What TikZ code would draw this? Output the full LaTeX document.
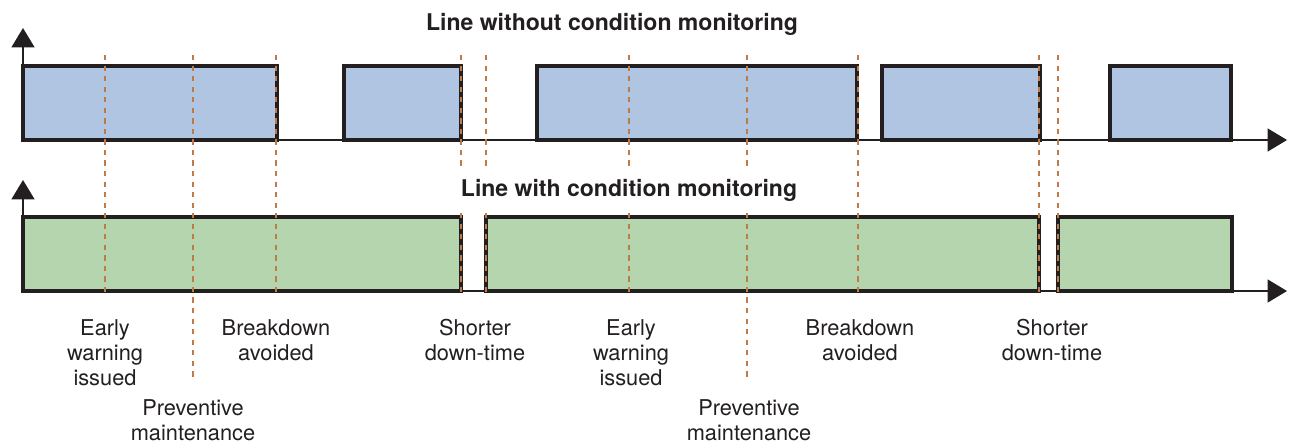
\documentclass[tikz,border=0pt]{standalone}
\usepackage{fontspec}
\setmainfont{TeX Gyre Heros}
\usetikzlibrary{arrows.meta,positioning}
\definecolor{runBlue}{HTML}{B0C5E2}
\definecolor{runGreen}{HTML}{B4D5AE}
\definecolor{lineBlack}{HTML}{231F20}
\definecolor{markOrange}{HTML}{C07A48}

\begin{document}
\begin{tikzpicture}
  [x=0.02cm,y=-0.02cm,
   runA/.style={draw=lineBlack,line width=2pt,fill=runBlue},
   runB/.style={draw=lineBlack,line width=2pt,fill=runGreen},
   axisL/.style={draw=lineBlack,line width=1pt,-{Triangle[length=11pt,width=13pt]}},
   markL/.style={draw=markOrange,line width=0.9pt,dash pattern=on 3pt off 3pt},
   labelN/.style={align=center,anchor=north,inner sep=0pt,text=lineBlack,
     font=\fontsize{12.4}{14.2}\selectfont},
   titleN/.style={fill=white,inner xsep=2pt,minimum height=24pt,text=lineBlack,
     font=\fontsize{13.1}{15}\selectfont\bfseries}]

  \useasboundingbox (0,0) rectangle (1294,443);

  % time axes
  \coordinate (oA) at (23,140);
  \coordinate (yA) at (23,28);
  \coordinate (xA) at (1287,140);
  \coordinate (oB) at (23,291);
  \coordinate (yB) at (23,180);
  \coordinate (xB) at (1287,291);

  \draw[axisL] (oA) -- (yA);
  \draw[axisL] (oA) -- (xA);
  \draw[axisL] (oB) -- (yB);
  \draw[axisL] (oB) -- (xB);

  % running periods
  \foreach \a/\b in {23/277,344/461,537/857,882/1040,1110/1231}
    \draw[runA] (\a,66) rectangle (\b,140);
  \foreach \a/\b in {23/461,486/1039,1058/1232}
    \draw[runB] (\a,217) rectangle (\b,291);

  % events
  \foreach \x in {105,276,461,486,629,858,1039,1058}
    \draw[markL] (\x,55) -- (\x,293);
  \foreach \x in {193,747}
    \draw[markL] (\x,55) -- (\x,380);

  \node[titleN] (titleA) at (612,24)  {Line without condition monitoring};
  \node[titleN] (titleB) at (629,190) {Line with condition monitoring};

  \node[labelN] (early1) at (105,319)  {Early\\warning\\issued};
  \node[labelN] (prev1)  at (193,399)  {Preventive\\maintenance};
  \node[labelN] (break1) at (276,319)  {Breakdown\\avoided};
  \node[labelN] (short1) at (475,319)  {Shorter\\down-time};
  \node[labelN] (early2) at (631,319)  {Early\\warning\\issued};
  \node[labelN] (prev2)  at (749,399)  {Preventive\\maintenance};
  \node[labelN] (break2) at (860,319)  {Breakdown\\avoided};
  \node[labelN] (short2) at (1052,319) {Shorter\\down-time};
\end{tikzpicture}
\end{document}
